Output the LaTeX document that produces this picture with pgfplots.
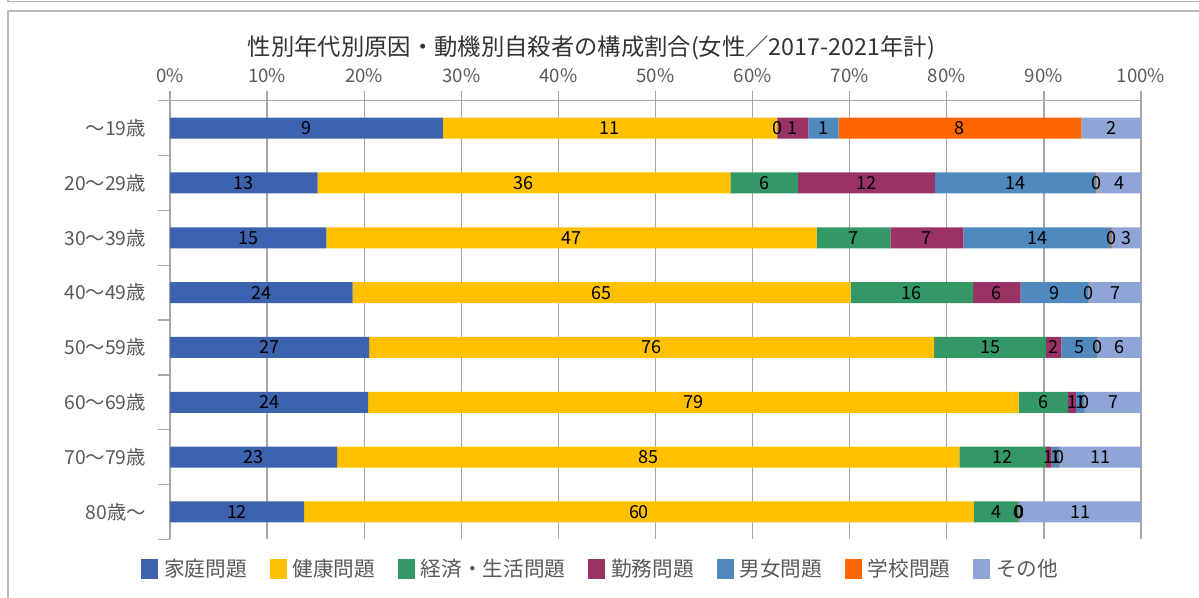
\documentclass[border=0pt]{standalone}
\usepackage{fontspec}
\setmainfont{Noto Sans CJK JP}
\usepackage{pgfplots}
\usepackage{pgfplotstable}
\pgfplotsset{compat=1.18}
\definecolor{cfam}{RGB}{61,99,174}
\definecolor{chea}{RGB}{255,192,0}
\definecolor{ceco}{RGB}{52,152,102}
\definecolor{ckin}{RGB}{153,51,102}
\definecolor{cdan}{RGB}{79,137,190}
\definecolor{cgak}{RGB}{255,102,0}
\definecolor{coth}{RGB}{142,165,214}
\definecolor{txt}{RGB}{89,89,89}

% share of each cause in % (bar length) and rounded count (label)
\pgfplotstableread{
y fam famn hea hean eco econ kin kinn dan dann gak gakn oth othn
7 28.1 9  34.4 11 0.05 0  3.2  1  3.1  1  25.0 8 6.15 2
6 15.2 13 42.5 36 7.0  6  14.1 12 16.6 14 0.1  0 4.5  4
5 16.1 15 50.5 47 7.6  7  7.5  7  15.2 14 0.1  0 3.0  3
4 18.8 24 51.3 65 12.6 16 4.9  6  7.0  9  0.05 0 5.35 7
3 20.5 27 58.2 76 11.5 15 1.6  2  3.7  5  0.05 0 4.45 6
2 20.4 24 67.0 79 5.1  6  0.8  1  0.9  1  0.05 0 5.75 7
1 17.2 23 64.1 85 8.9  12 0.6  1  0.8  1  0.05 0 8.35 11
0 13.8 12 69.0 60 4.6  4  0.05 0  0.05 0  0.05 0 12.45 11
}\data

\begin{document}
\begin{tikzpicture}
\useasboundingbox (0pt,0pt) rectangle (899.25pt,-448.5pt);
\draw[gray!55, line width=0.9pt] (6pt,0pt) -- (6pt,-1.1pt) -- (900pt,-1.1pt);
\draw[gray!55, line width=0.9pt] (6pt,-449pt) -- (6pt,-8.25pt) -- (900pt,-8.25pt);
\node[font=\fontsize{17.5}{20}\selectfont, text=black!80] at (443.6pt,-36pt)
  {性別年代別原因・動機別自殺者の構成割合(女性／2017-2021年計)};
\begin{axis}[
    at={(127.5pt,-404.5pt)}, anchor=south west,
    scale only axis,
    width=728.25pt, height=329pt,
    xbar stacked, bar width=15.75pt, bar shift=0pt,
    xmin=0, xmax=100, ymin=-0.5, ymax=7.5,
    axis x line*=top, axis y line*=left,
    axis line style={gray!70, line width=1pt, -},
    xmajorgrids, grid style={gray!70, line width=1pt},
    tick align=outside,
    major tick length=7.5pt, minor tick length=9pt,
    xtick={0,10,...,100},
    xticklabel={\pgfmathprintnumber{\tick}\%},
    /pgf/number format/assume math mode=true,
    x tick style={gray!70, line width=1pt},
    ytick={0,...,7},
    yticklabels={80歳～,70～79歳,60～69歳,50～59歳,40～49歳,30～39歳,20～29歳,～19歳},
    minor ytick={-0.5,0.5,...,7.5},
    major y tick style={draw=none},
    minor y tick style={gray!70, line width=1pt},
    ticklabel style={text=txt},
    xticklabel style={font=\fontsize{14}{16}\selectfont, yshift=2.5pt},
    yticklabel style={font=\fontsize{14.5}{17}\selectfont, xshift=-7pt},
    point meta=explicit symbolic,
    nodes near coords,
    every node near coord/.append style={font=\fontsize{13.5}{16}\selectfont, text=black},
    clip=false,
    legend columns=-1,
    legend style={at={(0.4439,-0.068)}, anchor=center, draw=none, fill=none,
      font=\fontsize{15.5}{18}\selectfont, text=txt,
      /tikz/every even column/.append style={column sep=15pt},
      /tikz/every odd column/.append style={column sep=2.5pt}},
    legend image code/.code={\path[#1, draw=none] (0pt,-7.5pt) rectangle (12.75pt,7.5pt);},
]
\addplot[fill=cfam, draw=none] table[x=fam, y=y, meta=famn] {\data};
\addlegendentry{家庭問題}
\addplot[fill=chea, draw=none] table[x=hea, y=y, meta=hean] {\data};
\addlegendentry{健康問題}
\addplot[fill=ceco, draw=none] table[x=eco, y=y, meta=econ] {\data};
\addlegendentry{経済・生活問題}
\addplot[fill=ckin, draw=none] table[x=kin, y=y, meta=kinn] {\data};
\addlegendentry{勤務問題}
\addplot[fill=cdan, draw=none] table[x=dan, y=y, meta=dann] {\data};
\addlegendentry{男女問題}
\addplot[fill=cgak, draw=none] table[x=gak, y=y, meta=gakn] {\data};
\addlegendentry{学校問題}
\addplot[fill=coth, draw=none] table[x=oth, y=y, meta=othn] {\data};
\addlegendentry{その他}
\end{axis}
\end{tikzpicture}
\end{document}
